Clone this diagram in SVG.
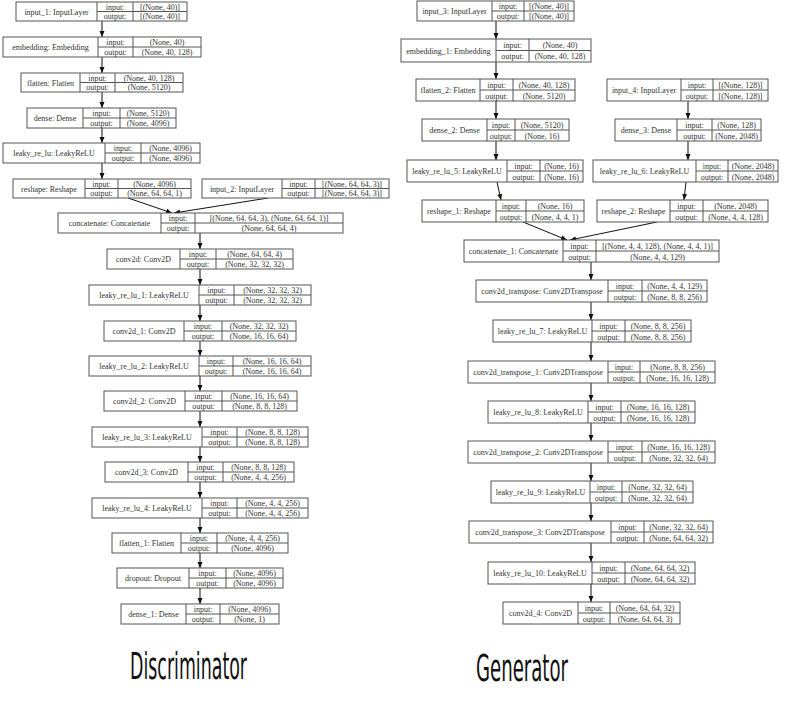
<svg xmlns="http://www.w3.org/2000/svg" width="785" height="725" viewBox="0 0 785 725">
<defs>
<style>
.b{fill:#fff;stroke:#555;stroke-width:1}
.l{stroke:#555;stroke-width:1}
.t{font-family:"Liberation Serif","Times New Roman",serif;font-size:8px;fill:#333;text-anchor:middle}
.e{stroke:#111;stroke-width:1;fill:none;marker-end:url(#ah)}
.h{font-family:"DejaVu Sans Condensed","DejaVu Sans",sans-serif;font-size:38px;fill:#111}
</style>
<marker id="ah" markerUnits="userSpaceOnUse" markerWidth="6" markerHeight="6" viewBox="0 0 6 6" refX="6" refY="3" orient="auto">
<path d="M0,0.5 L6,3 L0,5.5 Z" fill="#111"/>
</marker>
</defs>
<rect width="785" height="725" fill="#fff"/>

<g id="connectors">
<line class="e" x1="102" y1="21" x2="102" y2="37"/>
<line class="e" x1="102" y1="57" x2="102" y2="73"/>
<line class="e" x1="102" y1="92" x2="102" y2="108"/>
<line class="e" x1="102" y1="128" x2="102" y2="143"/>
<line class="e" x1="102" y1="163" x2="102" y2="179"/>
<line class="e" x1="128" y1="198" x2="172" y2="213"/>
<line class="e" x1="268" y1="198" x2="174" y2="213"/>
<line class="e" x1="200" y1="233" x2="200" y2="249"/>
<line class="e" x1="200" y1="269" x2="200" y2="285"/>
<line class="e" x1="200" y1="305" x2="200" y2="321"/>
<line class="e" x1="200" y1="341" x2="200" y2="356"/>
<line class="e" x1="200" y1="376" x2="200" y2="391"/>
<line class="e" x1="200" y1="411" x2="200" y2="427"/>
<line class="e" x1="200" y1="447" x2="200" y2="462"/>
<line class="e" x1="200" y1="482" x2="200" y2="498"/>
<line class="e" x1="200" y1="518" x2="200" y2="533"/>
<line class="e" x1="200" y1="553" x2="200" y2="568"/>
<line class="e" x1="200" y1="588" x2="200" y2="604"/>

<line class="e" x1="496" y1="21" x2="496" y2="39"/>
<line class="e" x1="496" y1="62" x2="496" y2="79"/>
<line class="e" x1="496" y1="101" x2="496" y2="119"/>
<line class="e" x1="496" y1="141" x2="496" y2="160"/>
<line class="e" x1="497" y1="182" x2="501" y2="200"/>
<line class="e" x1="688" y1="101" x2="688" y2="119"/>
<line class="e" x1="688" y1="141" x2="688" y2="160"/>
<line class="e" x1="686" y1="182" x2="684" y2="200"/>
<line class="e" x1="523" y1="222" x2="567" y2="240"/>
<line class="e" x1="657" y1="222" x2="570" y2="240"/>
<line class="e" x1="591" y1="262" x2="591" y2="280"/>
<line class="e" x1="591" y1="302" x2="591" y2="320"/>
<line class="e" x1="591" y1="342" x2="591" y2="361"/>
<line class="e" x1="591" y1="383" x2="591" y2="401"/>
<line class="e" x1="591" y1="423" x2="591" y2="441"/>
<line class="e" x1="591" y1="463" x2="591" y2="481"/>
<line class="e" x1="591" y1="503" x2="591" y2="521"/>
<line class="e" x1="591" y1="543" x2="591" y2="562"/>
<line class="e" x1="591" y1="584" x2="591" y2="602"/>
</g>

<!-- Discriminator -->
<g id="input_1">
<rect class="b" x="16" y="2" width="171" height="19"/>
<line class="l" x1="97" y1="2" x2="97" y2="21"/><line class="l" x1="133" y1="2" x2="133" y2="21"/><line class="l" x1="97" y1="11.5" x2="187" y2="11.5"/>
<text class="t" x="56.5" y="14.5">input_1: InputLayer</text>
<text class="t" x="115" y="9.5">input:</text><text class="t" x="115" y="19">output:</text>
<text class="t" x="160" y="9.5">[(None, 40)]</text><text class="t" x="160" y="19">[(None, 40)]</text>
</g>
<g id="embedding">
<rect class="b" x="3" y="37" width="198" height="20"/>
<line class="l" x1="98" y1="37" x2="98" y2="57"/><line class="l" x1="133" y1="37" x2="133" y2="57"/><line class="l" x1="98" y1="47" x2="201" y2="47"/>
<text class="t" x="50.5" y="50">embedding: Embedding</text>
<text class="t" x="115.5" y="45">input:</text><text class="t" x="115.5" y="55">output:</text>
<text class="t" x="167" y="45">(None, 40)</text><text class="t" x="167" y="55">(None, 40, 128)</text>
</g>
<g id="flatten">
<rect class="b" x="21" y="73" width="162" height="19"/>
<line class="l" x1="80" y1="73" x2="80" y2="92"/><line class="l" x1="115" y1="73" x2="115" y2="92"/><line class="l" x1="80" y1="82.5" x2="183" y2="82.5"/>
<text class="t" x="50.5" y="85.5">flatten: Flatten</text>
<text class="t" x="97.5" y="80.5">input:</text><text class="t" x="97.5" y="90">output:</text>
<text class="t" x="149" y="80.5">(None, 40, 128)</text><text class="t" x="149" y="90">(None, 5120)</text>
</g>
<g id="dense">
<rect class="b" x="27" y="108" width="149" height="20"/>
<line class="l" x1="83" y1="108" x2="83" y2="128"/><line class="l" x1="120" y1="108" x2="120" y2="128"/><line class="l" x1="83" y1="118" x2="176" y2="118"/>
<text class="t" x="55" y="121">dense: Dense</text>
<text class="t" x="101.5" y="116">input:</text><text class="t" x="101.5" y="126">output:</text>
<text class="t" x="148" y="116">(None, 5120)</text><text class="t" x="148" y="126">(None, 4096)</text>
</g>
<g id="leaky_re_lu">
<rect class="b" x="3" y="143" width="197" height="20"/>
<line class="l" x1="105" y1="143" x2="105" y2="163"/><line class="l" x1="141" y1="143" x2="141" y2="163"/><line class="l" x1="105" y1="153" x2="200" y2="153"/>
<text class="t" x="54" y="156">leaky_re_lu: LeakyReLU</text>
<text class="t" x="123" y="151">input:</text><text class="t" x="123" y="161">output:</text>
<text class="t" x="170.5" y="151">(None, 4096)</text><text class="t" x="170.5" y="161">(None, 4096)</text>
</g>
<g id="reshape">
<rect class="b" x="13" y="179" width="178" height="19"/>
<line class="l" x1="85" y1="179" x2="85" y2="198"/><line class="l" x1="118" y1="179" x2="118" y2="198"/><line class="l" x1="85" y1="188.5" x2="191" y2="188.5"/>
<text class="t" x="49" y="191.5">reshape: Reshape</text>
<text class="t" x="101.5" y="186.5">input:</text><text class="t" x="101.5" y="196">output:</text>
<text class="t" x="154.5" y="186.5">(None, 4096)</text><text class="t" x="154.5" y="196">(None, 64, 64, 1)</text>
</g>
<g id="input_2">
<rect class="b" x="202" y="179" width="187" height="19"/>
<line class="l" x1="282" y1="179" x2="282" y2="198"/><line class="l" x1="315" y1="179" x2="315" y2="198"/><line class="l" x1="282" y1="188.5" x2="389" y2="188.5"/>
<text class="t" x="242" y="191.5">input_2: InputLayer</text>
<text class="t" x="298.5" y="186.5">input:</text><text class="t" x="298.5" y="196">output:</text>
<text class="t" x="352" y="186.5">[(None, 64, 64, 3)]</text><text class="t" x="352" y="196">[(None, 64, 64, 3)]</text>
</g>
<g id="concatenate">
<rect class="b" x="58" y="213" width="285" height="20"/>
<line class="l" x1="161" y1="213" x2="161" y2="233"/><line class="l" x1="195" y1="213" x2="195" y2="233"/><line class="l" x1="161" y1="223" x2="343" y2="223"/>
<text class="t" x="109.5" y="226">concatenate: Concatenate</text>
<text class="t" x="178" y="221">input:</text><text class="t" x="178" y="231">output:</text>
<text class="t" x="269" y="221">[(None, 64, 64, 3), (None, 64, 64, 1)]</text><text class="t" x="269" y="231">(None, 64, 64, 4)</text>
</g>
<g id="conv2d">
<rect class="b" x="107" y="249" width="186" height="20"/>
<line class="l" x1="180" y1="249" x2="180" y2="269"/><line class="l" x1="216" y1="249" x2="216" y2="269"/><line class="l" x1="180" y1="259" x2="293" y2="259"/>
<text class="t" x="143.5" y="262">conv2d: Conv2D</text>
<text class="t" x="198" y="257">input:</text><text class="t" x="198" y="267">output:</text>
<text class="t" x="254.5" y="257">(None, 64, 64, 4)</text><text class="t" x="254.5" y="267">(None, 32, 32, 32)</text>
</g>
<g id="leaky_re_lu_1">
<rect class="b" x="89" y="285" width="222" height="20"/>
<line class="l" x1="199" y1="285" x2="199" y2="305"/><line class="l" x1="234" y1="285" x2="234" y2="305"/><line class="l" x1="199" y1="295" x2="311" y2="295"/>
<text class="t" x="144" y="298">leaky_re_lu_1: LeakyReLU</text>
<text class="t" x="216.5" y="293">input:</text><text class="t" x="216.5" y="303">output:</text>
<text class="t" x="272.5" y="293">(None, 32, 32, 32)</text><text class="t" x="272.5" y="303">(None, 32, 32, 32)</text>
</g>
<g id="conv2d_1">
<rect class="b" x="104" y="321" width="192" height="20"/>
<line class="l" x1="184" y1="321" x2="184" y2="341"/><line class="l" x1="222" y1="321" x2="222" y2="341"/><line class="l" x1="184" y1="331" x2="296" y2="331"/>
<text class="t" x="144" y="334">conv2d_1: Conv2D</text>
<text class="t" x="203" y="329">input:</text><text class="t" x="203" y="339">output:</text>
<text class="t" x="259" y="329">(None, 32, 32, 32)</text><text class="t" x="259" y="339">(None, 16, 16, 64)</text>
</g>
<g id="leaky_re_lu_2">
<rect class="b" x="89" y="356" width="222" height="20"/>
<line class="l" x1="199" y1="356" x2="199" y2="376"/><line class="l" x1="233" y1="356" x2="233" y2="376"/><line class="l" x1="199" y1="366" x2="311" y2="366"/>
<text class="t" x="144" y="369">leaky_re_lu_2: LeakyReLU</text>
<text class="t" x="216" y="364">input:</text><text class="t" x="216" y="374">output:</text>
<text class="t" x="272" y="364">(None, 16, 16, 64)</text><text class="t" x="272" y="374">(None, 16, 16, 64)</text>
</g>
<g id="conv2d_2">
<rect class="b" x="104" y="391" width="193" height="20"/>
<line class="l" x1="185" y1="391" x2="185" y2="411"/><line class="l" x1="222" y1="391" x2="222" y2="411"/><line class="l" x1="185" y1="401" x2="297" y2="401"/>
<text class="t" x="144.5" y="404">conv2d_2: Conv2D</text>
<text class="t" x="203.5" y="399">input:</text><text class="t" x="203.5" y="409">output:</text>
<text class="t" x="259.5" y="399">(None, 16, 16, 64)</text><text class="t" x="259.5" y="409">(None, 8, 8, 128)</text>
</g>
<g id="leaky_re_lu_3">
<rect class="b" x="92" y="427" width="216" height="20"/>
<line class="l" x1="202" y1="427" x2="202" y2="447"/><line class="l" x1="237" y1="427" x2="237" y2="447"/><line class="l" x1="202" y1="437" x2="308" y2="437"/>
<text class="t" x="147" y="440">leaky_re_lu_3: LeakyReLU</text>
<text class="t" x="219.5" y="435">input:</text><text class="t" x="219.5" y="445">output:</text>
<text class="t" x="272.5" y="435">(None, 8, 8, 128)</text><text class="t" x="272.5" y="445">(None, 8, 8, 128)</text>
</g>
<g id="conv2d_3">
<rect class="b" x="105" y="462" width="189" height="20"/>
<line class="l" x1="188" y1="462" x2="188" y2="482"/><line class="l" x1="223" y1="462" x2="223" y2="482"/><line class="l" x1="188" y1="472" x2="294" y2="472"/>
<text class="t" x="146.5" y="475">conv2d_3: Conv2D</text>
<text class="t" x="205.5" y="470">input:</text><text class="t" x="205.5" y="480">output:</text>
<text class="t" x="258.5" y="470">(None, 8, 8, 128)</text><text class="t" x="258.5" y="480">(None, 4, 4, 256)</text>
</g>
<g id="leaky_re_lu_4">
<rect class="b" x="92" y="498" width="216" height="20"/>
<line class="l" x1="202" y1="498" x2="202" y2="518"/><line class="l" x1="237" y1="498" x2="237" y2="518"/><line class="l" x1="202" y1="508" x2="308" y2="508"/>
<text class="t" x="147" y="511">leaky_re_lu_4: LeakyReLU</text>
<text class="t" x="219.5" y="506">input:</text><text class="t" x="219.5" y="516">output:</text>
<text class="t" x="272.5" y="506">(None, 4, 4, 256)</text><text class="t" x="272.5" y="516">(None, 4, 4, 256)</text>
</g>
<g id="flatten_1">
<rect class="b" x="112" y="533" width="176" height="20"/>
<line class="l" x1="181" y1="533" x2="181" y2="553"/><line class="l" x1="217" y1="533" x2="217" y2="553"/><line class="l" x1="181" y1="543" x2="288" y2="543"/>
<text class="t" x="146.5" y="546">flatten_1: Flatten</text>
<text class="t" x="199" y="541">input:</text><text class="t" x="199" y="551">output:</text>
<text class="t" x="252.5" y="541">(None, 4, 4, 256)</text><text class="t" x="252.5" y="551">(None, 4096)</text>
</g>
<g id="dropout">
<rect class="b" x="117" y="568" width="166" height="20"/>
<line class="l" x1="189" y1="568" x2="189" y2="588"/><line class="l" x1="226" y1="568" x2="226" y2="588"/><line class="l" x1="189" y1="578" x2="283" y2="578"/>
<text class="t" x="153" y="581">dropout: Dropout</text>
<text class="t" x="207.5" y="576">input:</text><text class="t" x="207.5" y="586">output:</text>
<text class="t" x="254.5" y="576">(None, 4096)</text><text class="t" x="254.5" y="586">(None, 4096)</text>
</g>
<g id="dense_1">
<rect class="b" x="121" y="604" width="158" height="20"/>
<line class="l" x1="186" y1="604" x2="186" y2="624"/><line class="l" x1="220" y1="604" x2="220" y2="624"/><line class="l" x1="186" y1="614" x2="279" y2="614"/>
<text class="t" x="153.5" y="617">dense_1: Dense</text>
<text class="t" x="203" y="612">input:</text><text class="t" x="203" y="622">output:</text>
<text class="t" x="249.5" y="612">(None, 4096)</text><text class="t" x="249.5" y="622">(None, 1)</text>
</g>

<!-- Generator -->
<g id="input_3">
<rect class="b" x="417" y="1" width="157" height="20"/>
<line class="l" x1="492" y1="1" x2="492" y2="21"/><line class="l" x1="524" y1="1" x2="524" y2="21"/><line class="l" x1="492" y1="11" x2="574" y2="11"/>
<text class="t" x="454.5" y="14">input_3: InputLayer</text>
<text class="t" x="508" y="9">input:</text><text class="t" x="508" y="19">output:</text>
<text class="t" x="549" y="9">[(None, 40)]</text><text class="t" x="549" y="19">[(None, 40)]</text>
</g>
<g id="embedding_1">
<rect class="b" x="401" y="39" width="190" height="23"/>
<line class="l" x1="496" y1="39" x2="496" y2="62"/><line class="l" x1="529" y1="39" x2="529" y2="62"/><line class="l" x1="496" y1="50.5" x2="591" y2="50.5"/>
<text class="t" x="448.5" y="53.5">embedding_1: Embedding</text>
<text class="t" x="512.5" y="48">input:</text><text class="t" x="512.5" y="59">output:</text>
<text class="t" x="560" y="48">(None, 40)</text><text class="t" x="560" y="59">(None, 40, 128)</text>
</g>
<g id="flatten_2">
<rect class="b" x="416" y="79" width="159" height="22"/>
<line class="l" x1="480" y1="79" x2="480" y2="101"/><line class="l" x1="513" y1="79" x2="513" y2="101"/><line class="l" x1="480" y1="90" x2="575" y2="90"/>
<text class="t" x="448" y="93">flatten_2: Flatten</text>
<text class="t" x="496.5" y="87.5">input:</text><text class="t" x="496.5" y="98.5">output:</text>
<text class="t" x="544" y="87.5">(None, 40, 128)</text><text class="t" x="544" y="98.5">(None, 5120)</text>
</g>
<g id="input_4">
<rect class="b" x="607" y="79" width="161" height="22"/>
<line class="l" x1="681" y1="79" x2="681" y2="101"/><line class="l" x1="713" y1="79" x2="713" y2="101"/><line class="l" x1="681" y1="90" x2="768" y2="90"/>
<text class="t" x="644" y="93">input_4: InputLayer</text>
<text class="t" x="697" y="87.5">input:</text><text class="t" x="697" y="98.5">output:</text>
<text class="t" x="740.5" y="87.5">[(None, 128)]</text><text class="t" x="740.5" y="98.5">[(None, 128)]</text>
</g>
<g id="dense_2">
<rect class="b" x="422" y="119" width="147" height="22"/>
<line class="l" x1="487" y1="119" x2="487" y2="141"/><line class="l" x1="515" y1="119" x2="515" y2="141"/><line class="l" x1="487" y1="130" x2="569" y2="130"/>
<text class="t" x="454.5" y="133">dense_2: Dense</text>
<text class="t" x="501" y="127.5">input:</text><text class="t" x="501" y="138.5">output:</text>
<text class="t" x="542" y="127.5">(None, 5120)</text><text class="t" x="542" y="138.5">(None, 16)</text>
</g>
<g id="dense_3">
<rect class="b" x="615" y="119" width="146" height="22"/>
<line class="l" x1="677" y1="119" x2="677" y2="141"/><line class="l" x1="712" y1="119" x2="712" y2="141"/><line class="l" x1="677" y1="130" x2="761" y2="130"/>
<text class="t" x="646" y="133">dense_3: Dense</text>
<text class="t" x="694.5" y="127.5">input:</text><text class="t" x="694.5" y="138.5">output:</text>
<text class="t" x="736.5" y="127.5">(None, 128)</text><text class="t" x="736.5" y="138.5">(None, 2048)</text>
</g>
<g id="leaky_re_lu_5">
<rect class="b" x="407" y="160" width="176" height="22"/>
<line class="l" x1="507" y1="160" x2="507" y2="182"/><line class="l" x1="540" y1="160" x2="540" y2="182"/><line class="l" x1="507" y1="171" x2="583" y2="171"/>
<text class="t" x="457" y="174">leaky_re_lu_5: LeakyReLU</text>
<text class="t" x="523.5" y="168.5">input:</text><text class="t" x="523.5" y="179.5">output:</text>
<text class="t" x="561.5" y="168.5">(None, 16)</text><text class="t" x="561.5" y="179.5">(None, 16)</text>
</g>
<g id="leaky_re_lu_6">
<rect class="b" x="593" y="160" width="185" height="22"/>
<line class="l" x1="696" y1="160" x2="696" y2="182"/><line class="l" x1="728" y1="160" x2="728" y2="182"/><line class="l" x1="696" y1="171" x2="778" y2="171"/>
<text class="t" x="644.5" y="174">leaky_re_lu_6: LeakyReLU</text>
<text class="t" x="712" y="168.5">input:</text><text class="t" x="712" y="179.5">output:</text>
<text class="t" x="753" y="168.5">(None, 2048)</text><text class="t" x="753" y="179.5">(None, 2048)</text>
</g>
<g id="reshape_1">
<rect class="b" x="422" y="200" width="162" height="22"/>
<line class="l" x1="496" y1="200" x2="496" y2="222"/><line class="l" x1="526" y1="200" x2="526" y2="222"/><line class="l" x1="496" y1="211" x2="584" y2="211"/>
<text class="t" x="459" y="214">reshape_1: Reshape</text>
<text class="t" x="511" y="208.5">input:</text><text class="t" x="511" y="219.5">output:</text>
<text class="t" x="555" y="208.5">(None, 16)</text><text class="t" x="555" y="219.5">(None, 4, 4, 1)</text>
</g>
<g id="reshape_2">
<rect class="b" x="597" y="200" width="171" height="22"/>
<line class="l" x1="670" y1="200" x2="670" y2="222"/><line class="l" x1="703" y1="200" x2="703" y2="222"/><line class="l" x1="670" y1="211" x2="768" y2="211"/>
<text class="t" x="633.5" y="214">reshape_2: Reshape</text>
<text class="t" x="686.5" y="208.5">input:</text><text class="t" x="686.5" y="219.5">output:</text>
<text class="t" x="735.5" y="208.5">(None, 2048)</text><text class="t" x="735.5" y="219.5">(None, 4, 4, 128)</text>
</g>
<g id="concatenate_1">
<rect class="b" x="464" y="240" width="255" height="22"/>
<line class="l" x1="563" y1="240" x2="563" y2="262"/><line class="l" x1="596" y1="240" x2="596" y2="262"/><line class="l" x1="563" y1="251" x2="719" y2="251"/>
<text class="t" x="513.5" y="254">concatenate_1: Concatenate</text>
<text class="t" x="579.5" y="248.5">input:</text><text class="t" x="579.5" y="259.5">output:</text>
<text class="t" x="657.5" y="248.5">[(None, 4, 4, 128), (None, 4, 4, 1)]</text><text class="t" x="657.5" y="259.5">(None, 4, 4, 129)</text>
</g>
<g id="conv2d_transpose">
<rect class="b" x="476" y="280" width="231" height="22"/>
<line class="l" x1="608" y1="280" x2="608" y2="302"/><line class="l" x1="642" y1="280" x2="642" y2="302"/><line class="l" x1="608" y1="291" x2="707" y2="291"/>
<text class="t" x="542" y="294">conv2d_transpose: Conv2DTranspose</text>
<text class="t" x="625" y="288.5">input:</text><text class="t" x="625" y="299.5">output:</text>
<text class="t" x="674.5" y="288.5">(None, 4, 4, 129)</text><text class="t" x="674.5" y="299.5">(None, 8, 8, 256)</text>
</g>
<g id="leaky_re_lu_7">
<rect class="b" x="493" y="320" width="198" height="22"/>
<line class="l" x1="592" y1="320" x2="592" y2="342"/><line class="l" x1="625" y1="320" x2="625" y2="342"/><line class="l" x1="592" y1="331" x2="691" y2="331"/>
<text class="t" x="542.5" y="334">leaky_re_lu_7: LeakyReLU</text>
<text class="t" x="608.5" y="328.5">input:</text><text class="t" x="608.5" y="339.5">output:</text>
<text class="t" x="658" y="328.5">(None, 8, 8, 256)</text><text class="t" x="658" y="339.5">(None, 8, 8, 256)</text>
</g>
<g id="conv2d_transpose_1">
<rect class="b" x="468" y="361" width="247" height="22"/>
<line class="l" x1="608" y1="361" x2="608" y2="383"/><line class="l" x1="640" y1="361" x2="640" y2="383"/><line class="l" x1="608" y1="372" x2="715" y2="372"/>
<text class="t" x="538" y="375">conv2d_transpose_1: Conv2DTranspose</text>
<text class="t" x="624" y="369.5">input:</text><text class="t" x="624" y="380.5">output:</text>
<text class="t" x="677.5" y="369.5">(None, 8, 8, 256)</text><text class="t" x="677.5" y="380.5">(None, 16, 16, 128)</text>
</g>
<g id="leaky_re_lu_8">
<rect class="b" x="488" y="401" width="207" height="22"/>
<line class="l" x1="588" y1="401" x2="588" y2="423"/><line class="l" x1="621" y1="401" x2="621" y2="423"/><line class="l" x1="588" y1="412" x2="695" y2="412"/>
<text class="t" x="538" y="415">leaky_re_lu_8: LeakyReLU</text>
<text class="t" x="604.5" y="409.5">input:</text><text class="t" x="604.5" y="420.5">output:</text>
<text class="t" x="658" y="409.5">(None, 16, 16, 128)</text><text class="t" x="658" y="420.5">(None, 16, 16, 128)</text>
</g>
<g id="conv2d_transpose_2">
<rect class="b" x="468" y="441" width="247" height="22"/>
<line class="l" x1="608" y1="441" x2="608" y2="463"/><line class="l" x1="642" y1="441" x2="642" y2="463"/><line class="l" x1="608" y1="452" x2="715" y2="452"/>
<text class="t" x="538" y="455">conv2d_transpose_2: Conv2DTranspose</text>
<text class="t" x="625" y="449.5">input:</text><text class="t" x="625" y="460.5">output:</text>
<text class="t" x="678.5" y="449.5">(None, 16, 16, 128)</text><text class="t" x="678.5" y="460.5">(None, 32, 32, 64)</text>
</g>
<g id="leaky_re_lu_9">
<rect class="b" x="491" y="481" width="202" height="22"/>
<line class="l" x1="590" y1="481" x2="590" y2="503"/><line class="l" x1="622" y1="481" x2="622" y2="503"/><line class="l" x1="590" y1="492" x2="693" y2="492"/>
<text class="t" x="540.5" y="495">leaky_re_lu_9: LeakyReLU</text>
<text class="t" x="606" y="489.5">input:</text><text class="t" x="606" y="500.5">output:</text>
<text class="t" x="657.5" y="489.5">(None, 32, 32, 64)</text><text class="t" x="657.5" y="500.5">(None, 32, 32, 64)</text>
</g>
<g id="conv2d_transpose_3">
<rect class="b" x="469" y="521" width="244" height="22"/>
<line class="l" x1="611" y1="521" x2="611" y2="543"/><line class="l" x1="644" y1="521" x2="644" y2="543"/><line class="l" x1="611" y1="532" x2="713" y2="532"/>
<text class="t" x="540" y="535">conv2d_transpose_3: Conv2DTranspose</text>
<text class="t" x="627.5" y="529.5">input:</text><text class="t" x="627.5" y="540.5">output:</text>
<text class="t" x="678.5" y="529.5">(None, 32, 32, 64)</text><text class="t" x="678.5" y="540.5">(None, 64, 64, 32)</text>
</g>
<g id="leaky_re_lu_10">
<rect class="b" x="488" y="562" width="207" height="22"/>
<line class="l" x1="592" y1="562" x2="592" y2="584"/><line class="l" x1="625" y1="562" x2="625" y2="584"/><line class="l" x1="592" y1="573" x2="695" y2="573"/>
<text class="t" x="540" y="576">leaky_re_lu_10: LeakyReLU</text>
<text class="t" x="608.5" y="570.5">input:</text><text class="t" x="608.5" y="581.5">output:</text>
<text class="t" x="660" y="570.5">(None, 64, 64, 32)</text><text class="t" x="660" y="581.5">(None, 64, 64, 32)</text>
</g>
<g id="conv2d_4">
<rect class="b" x="503" y="602" width="177" height="22"/>
<line class="l" x1="578" y1="602" x2="578" y2="624"/><line class="l" x1="610" y1="602" x2="610" y2="624"/><line class="l" x1="578" y1="613" x2="680" y2="613"/>
<text class="t" x="540.5" y="616">conv2d_4: Conv2D</text>
<text class="t" x="594" y="610.5">input:</text><text class="t" x="594" y="621.5">output:</text>
<text class="t" x="645" y="610.5">(None, 64, 64, 32)</text><text class="t" x="645" y="621.5">(None, 64, 64, 3)</text>
</g>

<g id="titles">
<text class="h" x="130" y="679" textLength="117" lengthAdjust="spacingAndGlyphs">Discriminator</text>
<text class="h" x="476" y="681" textLength="92" lengthAdjust="spacingAndGlyphs">Generator</text>
</g>
</svg>
